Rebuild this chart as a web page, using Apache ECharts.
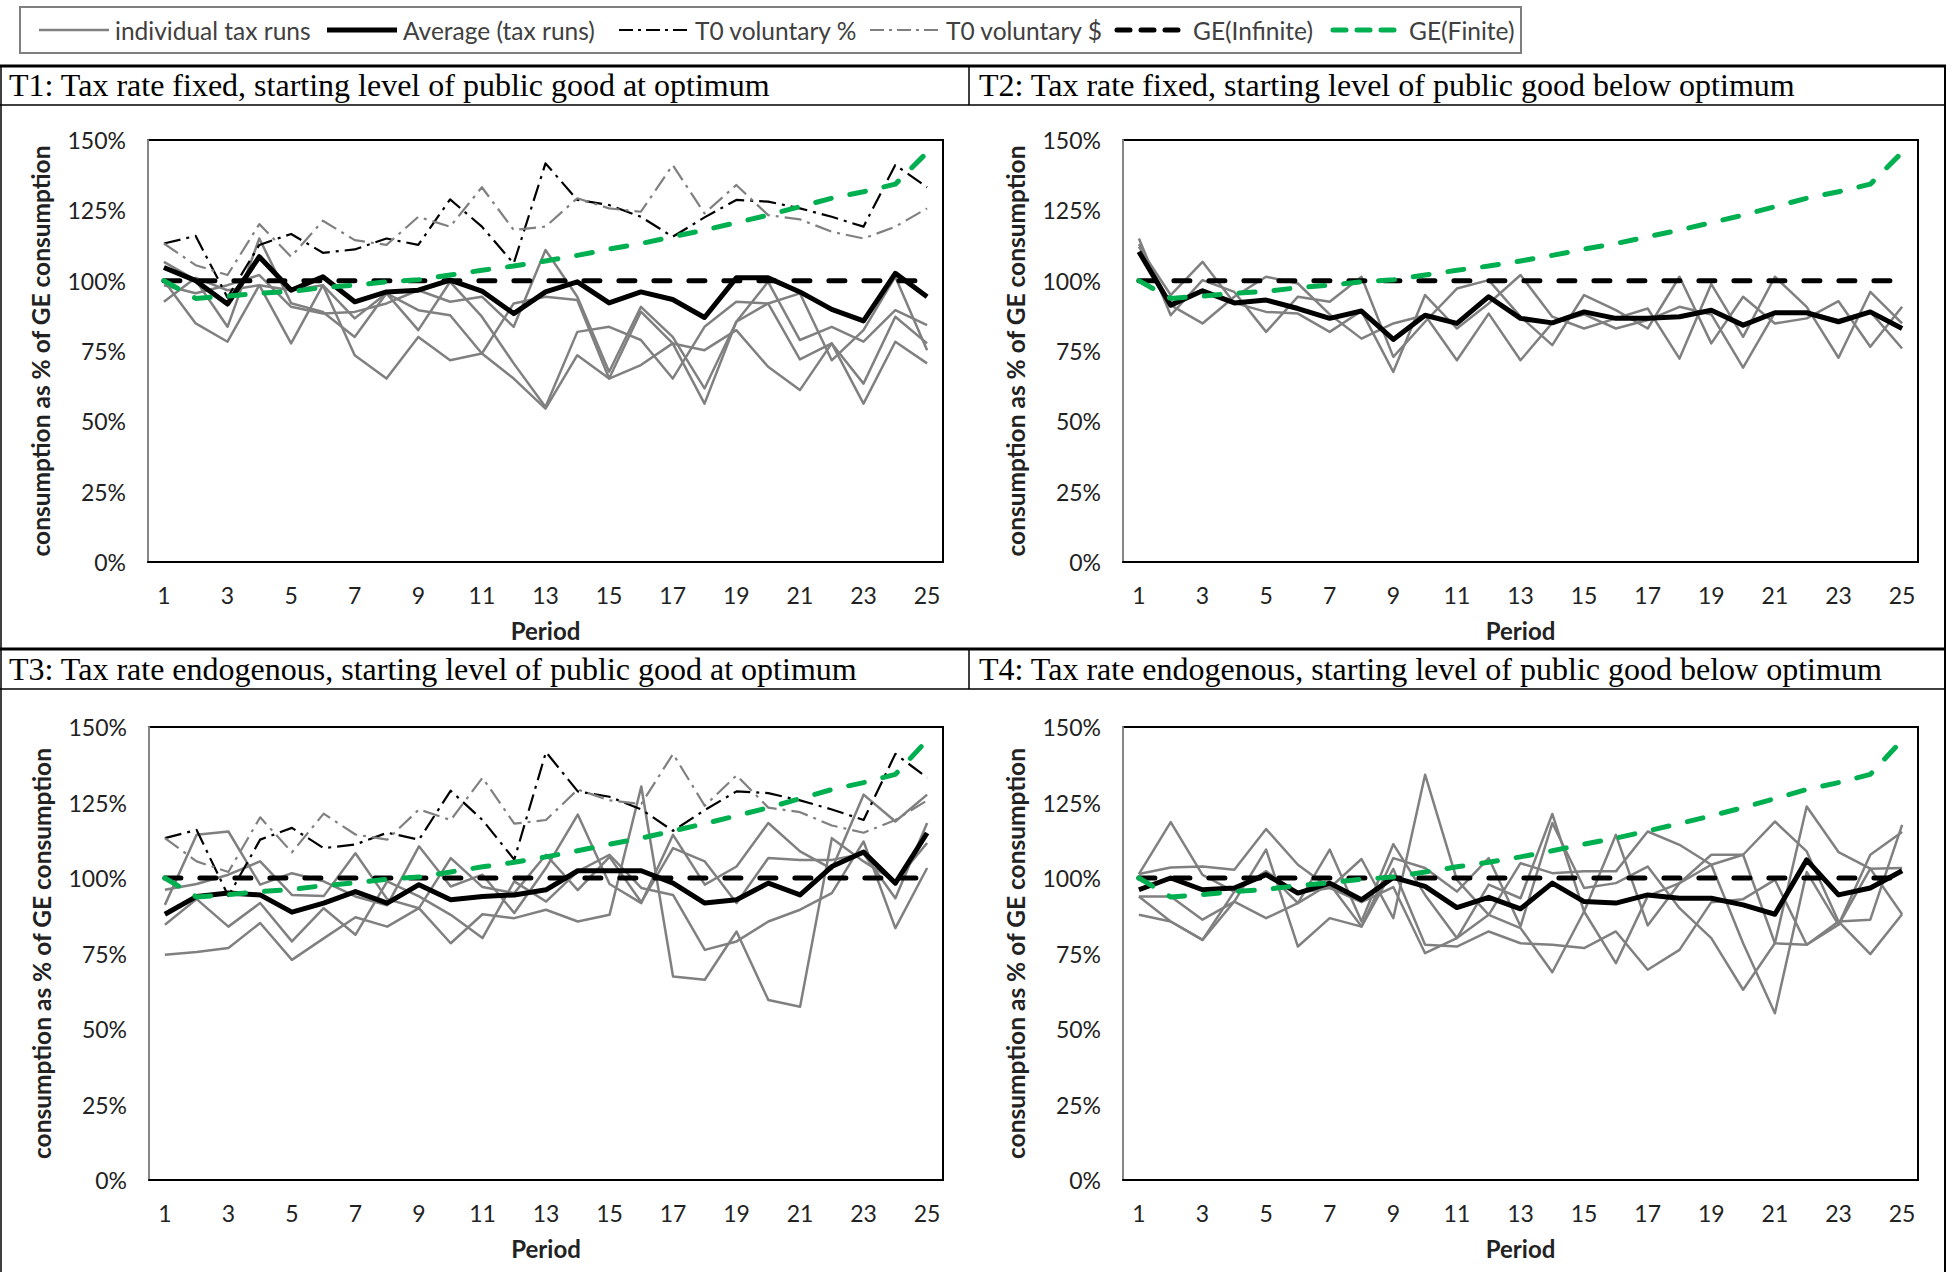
<!DOCTYPE html>
<html><head><meta charset="utf-8">
<script src="https://cdn.jsdelivr.net/npm/echarts@6/dist/echarts.min.js"></script>
<style>html,body{margin:0;padding:0;background:#fff}#c{width:1952px;height:1272px}</style>
</head><body><div id="c"></div>
<script>
// ---------- data ----------
const periods = ['1','2','3','4','5','6','7','8','9','10','11','12','13','14','15','16','17','18','19','20','21','22','23','24','25'];
const yTicks = [0, 25, 50, 75, 100, 125, 150];

const geInfinite = [100,100,100,100,100,100,100,100,100,100,100,100,100,100,100,100,100,100,100,100,100,100,100,100,100];
const geFinite = [100,93.7,94.5,95.5,96.2,97.5,98.4,99.6,100.3,102,103.7,105.2,107,109,111.2,113.2,115.6,118,120.6,123.3,126.3,129.3,131.6,134.3,145.6];
const t0Pct = [113.2,115.9,94,112.7,116.6,109.9,111.1,115,112.7,128.9,119.2,106.1,141.7,128.7,126.9,122.7,115.6,122.5,128.7,128.1,125.7,122.7,119.2,141.1,133.2];
const t0Dollar = [113.2,105.5,102,120.1,108.5,121.3,114.4,112.7,122.7,119.2,133.2,118,119.2,129.3,125.7,124.5,141.1,123.9,134,123.3,121.8,117.4,115,119.2,125.7];

// T1
const t1Average = [104.7,100,91.7,108.5,96.6,101.4,92.5,96,96.6,100.2,96.3,88.3,96,99.6,92.1,96,93.3,86.9,101,101,96,89.8,85.7,102.6,94.3];
const t1RunA = [100,84.8,78.3,98.4,77.7,98.4,73.5,65.2,80,71.7,74.1,65.2,54.5,73.5,65.2,70,77.7,56.3,85.4,91.9,72,77.7,56.3,78.3,70.6];
const t1RunB = [106.7,100.2,83.6,115,92,88.9,80,95.5,82.4,99.6,87.2,70.6,55.1,81.8,83.6,78.9,65.2,83.6,92.5,91.9,95.5,71.7,82.4,101.4,75.3];
const t1RunC = [98.4,95.5,98.4,102,90.7,88.3,88.9,91.9,96.6,92.5,94.3,83.6,110.9,94.3,67.6,90.7,80,61.7,85.4,99.6,78.9,83.6,78.3,89.5,84.2];
const t1RunD = [92.5,101,96.6,98.4,96.6,98.4,86.6,95.5,89.5,87.7,74.1,91.9,94.3,93.1,65.2,89,77.7,75.3,82.4,69.4,61.1,77.7,63.4,87.2,77.7];

// T2
const t2Average = [110.3,91.3,96.4,92.1,93.1,90.1,86.6,89.2,79.1,87.7,84.8,94.3,86.6,85,88.9,86.6,86.6,87.2,89.5,84.2,88.6,88.6,85.4,88.9,83];
const t2RunA = [115,87.7,100.2,96,81.8,94.3,92.5,101.4,72.9,85.4,97.2,100.2,87.2,77.1,94.9,89.5,83,101.4,77.7,94.3,84.8,86.6,92.7,76.5,90.7];
const t2RunB = [112,94.9,106.7,92.1,88.9,88.3,81.8,89.2,67.6,94.9,83,91.9,102,87.2,83,86.6,90.1,72.3,98.8,80,101.4,90.7,72.6,96,84.8];
const t2RunC = [113,91.3,84.8,94.3,101.4,99,88,79.4,84.8,87.7,71.7,88.3,71.7,85,88,83,86,90.7,88,69.1,88.6,88.6,86,89,75.9];

// T3
const t3Average = [88,93.9,95,94.4,88.7,91.7,95.5,91.7,97.8,92.8,93.9,94.4,96.1,102.4,102.4,102.4,98.3,91.7,92.8,98.3,94.4,103.8,108.6,98.3,114.9];
const t3RunA = [74.6,75.5,76.8,85.1,72.9,80,87,83.9,90,78.4,88,86.7,89.5,85.6,87.8,130.3,67.4,66.3,82.3,59.6,57.4,113.2,105.5,98.9,111.6];
const t3RunB = [84.5,93,83.9,91.7,79,90,81.2,98.9,93.9,87.8,80.1,98.9,92.2,102.2,107.7,96.7,94.4,76.2,79,85.6,89.5,95,112.1,83.4,103.3];
const t3RunC = [91.1,114.3,115.4,97.8,101.6,98.9,93.9,91,110.5,97.2,101.1,88.4,103.3,121,98,91.7,114.3,97.8,103.8,118.2,108.8,103,127.6,118.7,127.6];
const t3RunD = [96.1,98,101.1,105.5,94.4,94,108.2,93,90,106.6,97,95,107.7,96,107,92,109.9,105.5,91.7,106.6,106,106,108,93.3,118.2];

// T4
const t4Average = [96.1,100,96.1,96.7,101.1,95,98.3,92.8,100.2,97.2,90.2,93.6,89.8,98.3,92.2,91.7,94.4,93.3,93.3,91.1,88,106,94.4,96.7,102.4];
const t4RunA = [101.3,118.5,101,95.5,102.2,91.7,109.4,85.6,111.2,94.4,80.1,97.8,93.3,121.2,88.9,114.3,84.3,98.3,107.7,107.7,118.7,108.8,85.6,86.2,117.6];
const t4RunB = [101.3,103.5,103.8,102.7,116.2,104.4,96.7,106.3,86.7,134.2,99.4,87.8,104.9,101.6,102.2,102.2,115.4,111,104.4,78.4,55.2,102,84.5,107.7,115.2];
const t4RunC = [93.9,93.9,86.2,92.2,109.4,77.3,86.7,83.9,106.6,103.3,95.5,106.6,84,118.2,96.7,98.3,103.8,90,80.1,63,78.4,123.7,108.6,103.1,103.3];
const t4RunD = [93.9,85.6,79.5,92.2,86.7,91.7,98,83.9,103,77.9,77.3,82.3,78.4,77.9,76.8,82.3,69.6,76.2,92,93,99.4,77.9,85.6,74.8,88];
const t4RunE = [87.8,85.6,79.5,95.5,102.2,95,96.7,92,97,75.1,80.1,87.8,83.4,68.8,88.9,71.8,94,98.3,104.4,107.7,78.4,77.9,84.5,103.1,88];

const titles = [
  'T1: Tax rate fixed, starting level of public good at optimum',
  'T2: Tax rate fixed, starting level of public good below optimum',
  'T3: Tax rate endogenous, starting level of public good at optimum',
  'T4: Tax rate endogenous, starting level of public good below optimum'
];
const legendNames = ['individual tax runs','Average (tax runs)','T0 voluntary %','T0 voluntary $','GE(Infinite)','GE(Finite)'];
const yName = 'consumption as % of GE consumption';
const xName = 'Period';

// ---------- layout / style ----------
const panels = [
  {runs:[t1RunA,t1RunB,t1RunC,t1RunD], avg:t1Average, t0:true, grid:{left:148,top:140,width:795,height:422}},
  {runs:[t2RunA,t2RunB,t2RunC], avg:t2Average, t0:false, grid:{left:1123,top:140,width:795,height:422}},
  {runs:[t3RunA,t3RunB,t3RunC,t3RunD], avg:t3Average, t0:true, grid:{left:149,top:727,width:794,height:453}},
  {runs:[t4RunA,t4RunB,t4RunC,t4RunD,t4RunE], avg:t4Average, t0:false, grid:{left:1123,top:727,width:795,height:453}}
];

const SANS = 'Lato, "Open Sans", sans-serif';
const GREY = '#808080', GREEN = '#00B050';
const styles = [
  {color:GREY, width:2.5, dash:null},
  {color:'#000', width:5, dash:null},
  {color:'#000', width:2.2, dash:[17,6,3,6]},
  {color:GREY, width:2.2, dash:[17,6,3,6]},
  {color:'#000', width:5, dash:[16,19]},
  {color:GREEN, width:5, dash:[16,19]}
];
const grids = [], xAxes = [], yAxes = [], series = [];

panels.forEach((p, i) => {
  grids.push(Object.assign({show:true, borderColor:'#000', borderWidth:2, containLabel:false}, p.grid));
  xAxes.push({
    type:'category', gridIndex:i, data:periods, boundaryGap:true,
    axisLine:{show:true, lineStyle:{color:'#000', width:2}},
    axisTick:{show:false},
    axisLabel:{interval:1, margin:21, fontSize:23, fontFamily:SANS, color:'#222'},
    name:xName, nameLocation:'middle', nameGap:56,
    nameTextStyle:{fontSize:24, fontWeight:'bold', fontFamily:SANS, color:'#222'}
  });
  yAxes.push({
    type:'value', gridIndex:i, min:yTicks[0], max:yTicks[yTicks.length-1], interval:25,
    axisLine:{show:true, lineStyle:{color:'#868686', width:2}},
    axisTick:{show:false}, splitLine:{show:false},
    axisLabel:{margin:22, fontSize:23, fontFamily:SANS, color:'#222', formatter:'{value}%'},
    name:yName, nameLocation:'middle', nameGap:95, nameRotate:90,
    nameTextStyle:{fontSize:24.5, fontWeight:'bold', fontFamily:SANS, color:'#222'}
  });
  const base = {type:'line', xAxisIndex:i, yAxisIndex:i, symbol:'none', silent:true, animation:false, z:2};
  const ls = k => ({color:styles[k].color, width:styles[k].width, type:styles[k].dash || 'solid', cap:styles[k].dash ? 'round' : 'butt', join:'round'});
  p.runs.forEach(r => series.push(Object.assign({}, base, {name:legendNames[0], data:r, lineStyle:ls(0)})));
  series.push(Object.assign({}, base, {name:legendNames[1], data:p.avg, z:5, lineStyle:ls(1)}));
  if (p.t0) {
    series.push(Object.assign({}, base, {name:legendNames[2], data:t0Pct, z:3, lineStyle:Object.assign(ls(2), {cap:'butt'})}));
    series.push(Object.assign({}, base, {name:legendNames[3], data:t0Dollar, z:3, lineStyle:Object.assign(ls(3), {cap:'butt'})}));
  }
  series.push(Object.assign({}, base, {name:legendNames[4], data:geInfinite, z:4, lineStyle:ls(4)}));
  series.push(Object.assign({}, base, {name:legendNames[5], data:geFinite, z:6, lineStyle:ls(5)}));
});

// legend drawn as lines + text
const legendTextX = [115, 403, 695, 946, 1193, 1409];
const legendY = 30;
const legendGraphic = [];
legendNames.forEach((n, k) => {
  const s = styles[k];
  const x2 = legendTextX[k] - 6, x1 = x2 - 70;
  const st = {stroke:s.color, lineWidth:s.width};
  if (s.dash) { st.lineDash = k >= 4 ? [13,11] : [14,5,3,5]; st.lineCap = k >= 4 ? 'round' : 'butt'; }
  legendGraphic.push({type:'line', shape:{x1, y1:legendY, x2, y2:legendY}, style:st, silent:true});
  legendGraphic.push({type:'text', x:legendTextX[k], y:legendY, style:{text:n, fontFamily:SANS, fontSize:24.5, fill:'#404040', verticalAlign:'middle', align:'left'}, silent:true});
});

// table lines & titles
const L = (x1,y1,x2,y2,w) => ({type:'line', shape:{x1,y1,x2,y2}, style:{stroke:'#000', lineWidth:w}, silent:true});
const T = (x,y,t) => ({type:'text', x, y, style:{text:t, fontFamily:'"Liberation Serif","Times New Roman",serif', fontSize:32, fill:'#000', verticalAlign:'middle', align:'left'}, silent:true});
const graphic = [
  {type:'rect', shape:{x:20, y:7, width:1501, height:46}, style:{fill:'none', stroke:'#7f7f7f', lineWidth:2}, silent:true},
  L(0,66,1946,66,3), L(0,105,1946,105,1.5), L(969,66,969,105,1.5),
  L(0,649,1946,649,3), L(0,689,1946,689,1.5), L(969,649,969,689,1.5),
  L(1,66,1,1272,1.5), L(1945,66,1945,1272,2),
  T(9,85,titles[0]), T(979,85,titles[1]), T(9,669,titles[2]), T(979,669,titles[3])
].concat(legendGraphic);

const chart = echarts.init(document.getElementById('c'), null, {renderer:'svg'});
chart.setOption({
  backgroundColor:'#fff', animation:false,
  grid:grids, xAxis:xAxes, yAxis:yAxes, series, graphic
});
</script></body></html>
